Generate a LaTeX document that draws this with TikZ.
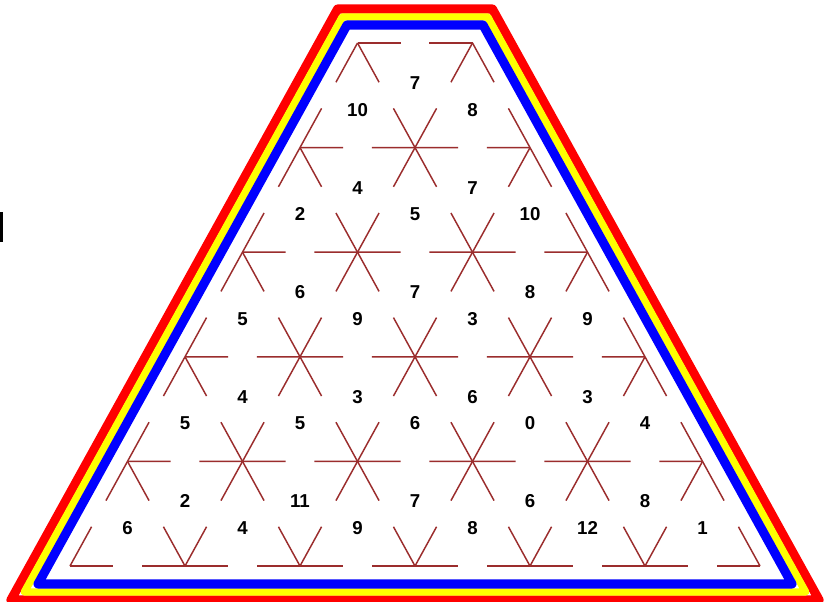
\documentclass[tikz,border=0pt]{standalone}
\usepackage{fontspec}
\setmainfont{Liberation Sans}
\usetikzlibrary{calc}
\definecolor{edgeRed}{HTML}{9B2D2D}
\definecolor{frameRed}{HTML}{FF0000}
\definecolor{frameYellow}{HTML}{FFFF00}
\definecolor{frameBlue}{HTML}{0000FF}
\tikzset{
  stub/.style={draw=edgeRed, line width=1.1pt},
  framebar/.style={line width=#1, line join=round},
  cellnum/.style={font=\fontsize{14}{16}\selectfont\bfseries, inner sep=0pt, text=black},
}
% two stubs, one from each end of a lattice edge
\newcommand{\halfedges}[2]{%
  \draw[stub] (#1) -- ($(#1)!0.375!(#2)$);
  \draw[stub] (#2) -- ($(#2)!0.375!(#1)$);
}

\begin{document}
\begin{tikzpicture}[x=0.75pt, y=-0.75pt]

  \fill[white] (0,0) rectangle (830,602);
  \useasboundingbox (0,0) rectangle (830,602);

  % === Frame: red, yellow, blue ===
  \draw[framebar=6.8pt, frameRed] (337.6,9) -- (492.4,9) -- (819.1,600) -- (10.9,600) -- cycle;
  \draw[framebar=5.6pt, frameYellow] (342.3,17) -- (487.7,17) -- (805.6,592) -- (24.4,592) -- cycle;
  \draw[framebar=6.8pt, frameBlue] (347,25) -- (483,25) -- (792,584) -- (38,584) -- cycle;

  % small mark on the left edge
  \fill[black] (0,212) rectangle (2.5,242);

  % === Lattice points ===
  \foreach \r in {0,...,5} {
    \pgfmathtruncatemacro\kmax{\r+1}
    \foreach \k in {0,...,\kmax} {
      \coordinate (v\r-\k) at ({415-(\r+1)*57.5+\k*115}, {43+\r*104.6});
    }
  }

  % === Horizontal edges ===
  \foreach \r in {0,...,5} {
    \foreach \k in {0,...,\r} {
      \pgfmathtruncatemacro\kn{\k+1}
      \halfedges{v\r-\k}{v\r-\kn}
    }
  }

  % === Diagonal edges ===
  \foreach \r in {0,...,4} {
    \pgfmathtruncatemacro\rn{\r+1}
    \pgfmathtruncatemacro\kmax{\r+1}
    \foreach \k in {0,...,\kmax} {
      \pgfmathtruncatemacro\kn{\k+1}
      \halfedges{v\r-\k}{v\rn-\k}
      \halfedges{v\r-\k}{v\rn-\kn}
    }
  }

  % === Numbers: upward triangles ===
  \foreach \r/\k/\n in {0/0/10, 0/1/8,
      1/0/2, 1/1/5, 1/2/10,
      2/0/5, 2/1/9, 2/2/3, 2/3/9,
      3/0/5, 3/1/5, 3/2/6, 3/3/0, 3/4/4,
      4/0/6, 4/1/4, 4/2/9, 4/3/8, 4/4/12, 4/5/1} {
    \node[cellnum] (up\r-\k) at ($(v\r-\k)+(0,66.7)$) {\n};
  }

  % === Numbers: downward triangles ===
  \foreach \r/\k/\n in {0/0/7,
      1/0/4, 1/1/7,
      2/0/6, 2/1/7, 2/2/8,
      3/0/4, 3/1/3, 3/2/6, 3/3/3,
      4/0/2, 4/1/11, 4/2/7, 4/3/6, 4/4/8} {
    \node[cellnum] (dn\r-\k) at ($(v\r-\k)+(57.5,40)$) {\n};
  }

\end{tikzpicture}
\end{document}
